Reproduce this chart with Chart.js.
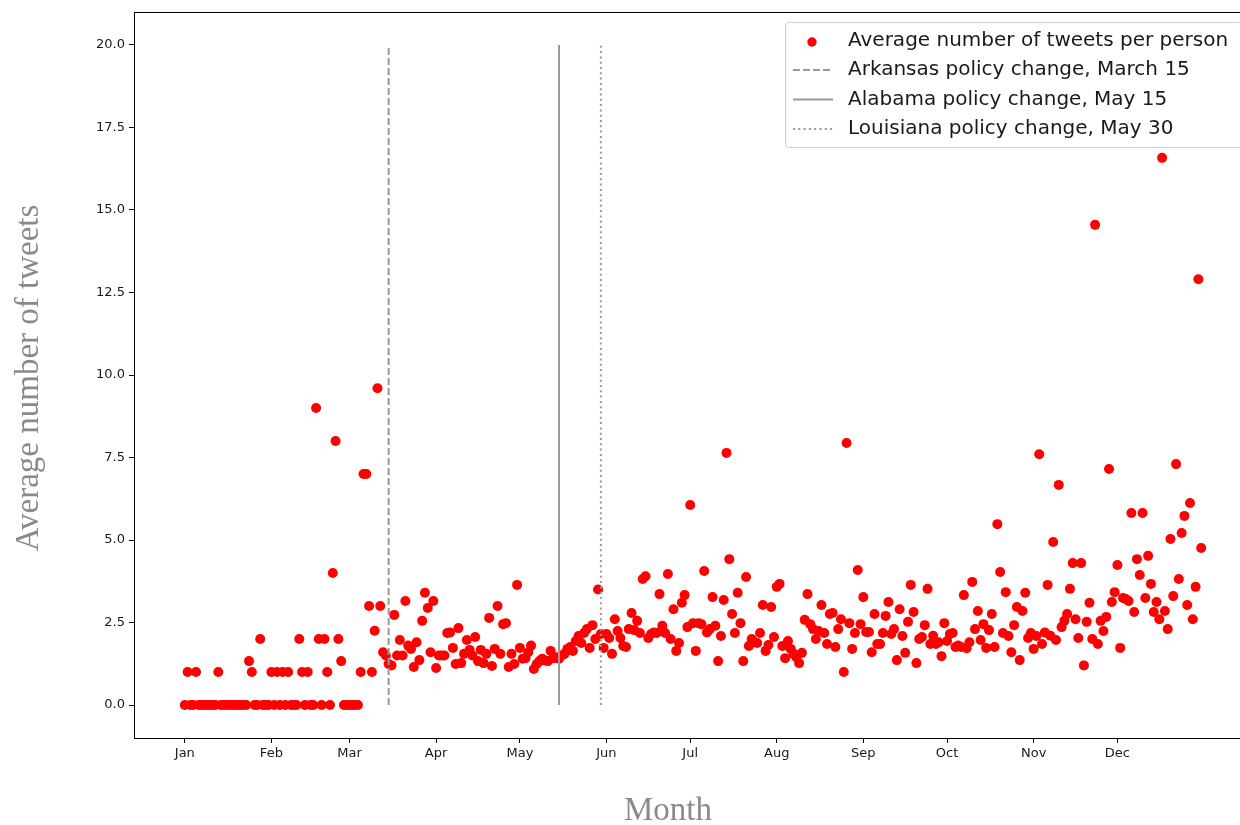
<!DOCTYPE html>
<html>
<head>
<meta charset="utf-8">
<script src="https://cdn.jsdelivr.net/npm/chart.js@4/dist/chart.umd.min.js"></script>
<style>
  html, body { margin: 0; padding: 0; background: #fff; overflow: hidden; }
  #wrap { width: 1262px; height: 825px; }
</style>
</head>
<body>
<div id="wrap"><canvas id="chart" width="1262" height="825"></canvas></div>
<script>
// month ticks (day of year, Jan 1 = 0)
const monthLabels = ['Jan', 'Feb', 'Mar', 'Apr', 'May', 'Jun', 'Jul', 'Aug', 'Sep', 'Oct', 'Nov', 'Dec'];
const monthStarts = [0, 31, 59, 90, 120, 151, 181, 212, 243, 273, 304, 334];
const yTickValues = [0, 2.5, 5, 7.5, 10, 12.5, 15, 17.5, 20];

// average number of tweets per person, one value per day
const jan = [0, 1, 0, 0, 1, 0, 0, 0, 0, 0, 0, 0, 1, 0, 0, 0, 0, 0, 0, 0, 0, 0, 0, 1.33, 1, 0, 0, 2, 0, 0, 0];
const feb = [1, 0, 1, 0, 1, 0, 1, 0, 0, 0, 2, 1, 0, 1, 0, 0, 9, 2, 0, 2, 1, 0, 4, 8, 2, 1.33, 0, 0];
const mar = [0, 0, 0, 0, 1, 7, 7, 3, 1, 2.25, 9.6, 3.0, 1.6, 1.5, 1.24, 1.2, 2.73, 1.5, 1.97, 1.5, 3.15, 1.8, 1.7, 1.15, 1.9, 1.36, 2.55, 3.4, 2.94, 1.6, 3.15];
const apr = [1.12, 1.5, 1.5, 1.5, 2.18, 2.2, 1.73, 1.24, 2.33, 1.27, 1.55, 1.97, 1.67, 1.5, 2.06, 1.33, 1.67, 1.27, 1.55, 2.64, 1.18, 1.7, 3.0, 1.55, 2.45, 2.48, 1.15, 1.55, 1.24, 3.64];
const may = [1.73, 1.4, 1.42, 1.6, 1.8, 1.09, 1.24, 1.33, 1.4, 1.35, 1.33, 1.64, 1.42, 1.45, 1.4, 1.5, 1.55, 1.7, 1.76, 1.64, 1.94, 2.09, 1.88, 2.18, 2.3, 1.73, 2.42, 2.0, 3.5, 2.15, 1.73];
const jun = [2.15, 2.03, 1.55, 2.6, 2.24, 2.03, 1.79, 1.76, 2.3, 2.79, 2.27, 2.55, 2.18, 3.82, 3.9, 2.03, 2.15, 2.2, 2.18, 3.36, 2.4, 2.18, 3.97, 2.0, 2.9, 1.64, 1.88, 3.1, 3.33, 2.36];
const jul = [6.06, 2.48, 1.64, 2.48, 2.45, 4.06, 2.2, 2.3, 3.27, 2.4, 1.33, 2.09, 3.18, 7.64, 4.42, 2.76, 2.18, 3.4, 2.48, 1.33, 3.88, 1.79, 2.0, 1.9, 1.88, 2.18, 3.03, 1.64, 1.82, 2.97, 2.06];
const aug = [3.58, 3.67, 1.79, 1.42, 1.94, 1.7, 1.55, 1.45, 1.27, 1.58, 2.58, 3.36, 2.45, 2.3, 2.0, 2.24, 3.03, 2.18, 1.85, 2.76, 2.79, 1.76, 2.3, 2.6, 1.0, 7.94, 2.48, 1.7, 2.18, 4.09, 2.45];
const sep = [3.27, 2.21, 2.21, 1.6, 2.76, 1.85, 1.85, 2.18, 2.7, 3.12, 2.15, 2.3, 1.36, 2.9, 2.09, 1.58, 2.52, 3.64, 2.82, 1.27, 2.0, 2.06, 2.42, 3.52, 1.85, 2.1, 1.85, 1.9, 1.48, 2.48];
const oct = [1.94, 2.15, 2.18, 1.76, 1.8, 1.76, 3.33, 1.72, 1.9, 3.73, 2.3, 2.85, 1.97, 2.45, 1.73, 2.27, 2.76, 1.76, 5.48, 4.03, 2.18, 3.42, 2.09, 1.6, 2.42, 2.97, 1.36, 2.85, 3.4, 2.03, 2.18];
const nov = [1.7, 2.09, 7.6, 1.85, 2.2, 3.64, 2.1, 4.94, 1.97, 6.67, 2.36, 2.55, 2.76, 3.52, 4.3, 2.6, 2.03, 4.3, 1.2, 2.52, 3.1, 2.0, 14.55, 1.85, 2.55, 2.24, 2.67, 7.15, 3.12, 3.42];
const dec = [4.24, 1.73, 3.24, 3.21, 3.15, 5.82, 2.82, 4.42, 3.94, 5.82, 3.24, 4.52, 3.67, 2.82, 3.12, 2.6, 16.58, 2.85, 2.3, 5.03, 3.3, 7.3, 3.82, 5.21, 5.73, 3.03, 6.12, 2.6, 3.58, 12.9, 4.76];

// policy changes
const policyLabels = ['Arkansas policy change, March 15', 'Alabama policy change, May 15', 'Louisiana policy change, May 30'];
const policyDays = [73, 134, 149];
const policyDash = [[7, 3], [], [2, 3.3]];
const policyTop = 20;

const tweetsPerDay = [].concat(jan, feb, mar, apr, may, jun, jul, aug, sep, oct, nov, dec);
const points = tweetsPerDay.map((v, i) => ({ x: i, y: v }));

const lineColor = '#999999';
const datasets = [{
    label: 'Average number of tweets per person',
    data: points,
    backgroundColor: '#ff0000',
    borderWidth: 0,
    pointRadius: 5,
    order: 2,
}];
policyDays.forEach((d, i) => {
    datasets.push({
        label: policyLabels[i],
        data: [{ x: d, y: 0 }, { x: d, y: policyTop }],
        showLine: true,
        borderColor: lineColor,
        borderWidth: 2,
        borderDash: policyDash[i],
        pointRadius: 0,
        order: 1,
    });
});

// frame, axis titles and legend drawn like matplotlib
const extras = {
    id: 'extras',
    afterDraw(chart) {
        const ctx = chart.ctx;
        const a = chart.chartArea;
        ctx.save();
        ctx.strokeStyle = '#000';
        ctx.lineWidth = 1;
        ctx.strokeRect(a.left + 0.5, a.top + 0.5, a.right - a.left, a.bottom - a.top);

        ctx.fillStyle = '#8a8a8a';
        ctx.font = '33px "Liberation Serif", serif';
        ctx.textAlign = 'center';
        ctx.textBaseline = 'middle';
        ctx.fillText('Month', 668, 811);
        ctx.translate(29, 378);
        ctx.rotate(-Math.PI / 2);
        ctx.fillText('Average number of tweets', 0, 0);
        ctx.restore();

        // legend box
        ctx.save();
        const bx = 785, by = 22, bw = 457, bh = 125;
        ctx.beginPath();
        ctx.roundRect(bx + 0.5, by + 0.5, bw, bh, 3);
        ctx.fillStyle = 'rgba(255,255,255,0.8)';
        ctx.fill();
        ctx.strokeStyle = '#cccccc';
        ctx.lineWidth = 1;
        ctx.stroke();

        ctx.font = '20px "DejaVu Sans", sans-serif';
        ctx.textAlign = 'left';
        ctx.textBaseline = 'middle';
        const rowY = [40, 69, 98.5, 128];
        datasets.forEach((ds, i) => {
            const y = rowY[i];
            if (i === 0) {
                ctx.beginPath();
                ctx.arc(812, y + 2, 4.7, 0, Math.PI * 2);
                ctx.fillStyle = ds.backgroundColor;
                ctx.fill();
            } else {
                ctx.beginPath();
                ctx.setLineDash(ds.borderDash);
                ctx.strokeStyle = ds.borderColor;
                ctx.lineWidth = 2;
                ctx.moveTo(793, y + 1);
                ctx.lineTo(833, y + 1);
                ctx.stroke();
                ctx.setLineDash([]);
            }
            ctx.fillStyle = '#1a1a1a';
            ctx.fillText(ds.label, 848, y + 1);
        });
        ctx.restore();
    }
};

new Chart(document.getElementById('chart'), {
    type: 'scatter',
    data: { datasets: datasets },
    plugins: [extras],
    options: {
        responsive: false,
        animation: false,
        layout: { padding: { top: 12, right: 10, left: 0, bottom: 0 } },
        plugins: { legend: { display: false }, tooltip: { enabled: false } },
        scales: {
            x: {
                type: 'linear',
                min: -18.2,
                max: 382.2,
                afterFit: (s) => { s.height = 87; },
                afterBuildTicks: (s) => { s.ticks = monthStarts.map(v => ({ value: v })); },
                ticks: {
                    autoSkip: false,
                    maxRotation: 0,
                    padding: 3,
                    color: '#1a1a1a',
                    font: { family: '"DejaVu Sans", sans-serif', size: 13 },
                    callback: (v) => monthLabels[monthStarts.indexOf(v)],
                },
                grid: { drawOnChartArea: false, drawTicks: true, tickLength: 5, color: '#000' },
                border: { color: '#000', width: 1 },
            },
            y: {
                min: -1,
                max: 21,
                afterFit: (s) => { s.width = 134; },
                afterBuildTicks: (s) => { s.ticks = yTickValues.map(v => ({ value: v })); },
                ticks: {
                    padding: 4,
                    color: '#1a1a1a',
                    font: { family: '"DejaVu Sans", sans-serif', size: 13 },
                    callback: (v) => v.toFixed(1),
                },
                grid: { drawOnChartArea: false, drawTicks: true, tickLength: 5, color: '#000' },
                border: { color: '#000', width: 1 },
            },
        },
    },
});
</script>
</body>
</html>
